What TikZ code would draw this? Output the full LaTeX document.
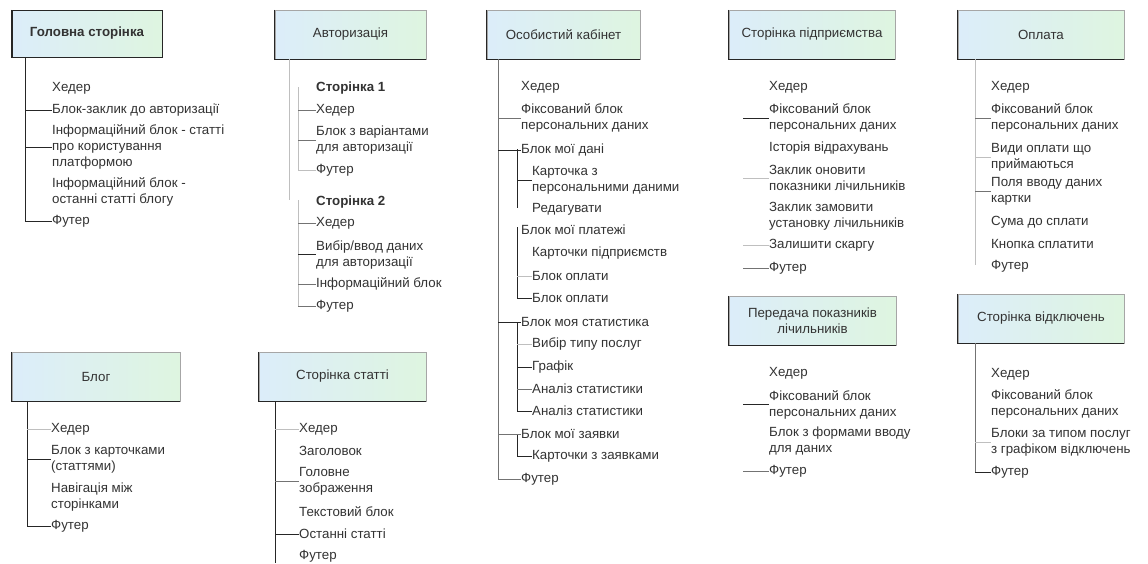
\documentclass[tikz,border=0pt]{standalone}
\usepackage{fontspec}
\setmainfont{Liberation Sans}
\definecolor{boxL}{HTML}{DCEDFA}
\definecolor{boxR}{HTML}{DEF5E0}
\definecolor{txt}{HTML}{333333}
\tikzset{
  pagebox/.style={left color=boxL, right color=boxR, draw=black!35, line width=0.5pt,
    inner sep=0pt, font=\fontsize{13.3}{15.5}\selectfont, text=txt, align=center},
  boxedge/.style={draw=black!85, line width=1.1pt},
  item/.style={anchor=west, inner xsep=0pt, inner ysep=0pt, align=left,
    font=\fontsize{13.3}{16}\selectfont, text=txt},
  tkd/.style={draw=black!85, line width=0.8pt},
  tkm/.style={draw=black!55, line width=0.6pt},
  tkl/.style={draw=black!25, line width=0.5pt},
}
\begin{document}
\begin{tikzpicture}[x=1pt,y=-1pt]
\useasboundingbox (0,0) rectangle (1148,563);
\fill[white] (0,0) rectangle (1148,563);

% ---------- Головна сторінка ----------
\node[pagebox, draw=black!85, minimum width=150pt, minimum height=47pt, font=\fontsize{13.3}{15.5}\selectfont\bfseries] (b1) at (87,33.5) {Головна сторінка};
\draw[boxedge] (b1.north west) -- (b1.south west) -- (b1.south east);
\coordinate (v1) at (25,221);
\draw[tkd] (b1.south -| v1) -- (v1);
\node[item] (a1) at (52,88) {Хедер};
\node[item] (a2) at (52,110) {Блок-заклик до авторизації};
\node[item] (a3) at (52,147) {Інформаційний блок - статті\\про користування\\платформою};
\node[item] (a4) at (52,191.5) {Інформаційний блок -\\останні статті блогу};
\node[item] (a5) at (52,221) {Футер};
\draw[tkd] (a2.west -| v1) -- (a2.west);
\draw[tkd] (a3.west -| v1) -- (a3.west);
\draw[tkd] (a5.west -| v1) -- (a5.west);

% ---------- Авторизація ----------
\node[pagebox, minimum width=151pt, minimum height=49pt] (b2) at (350.5,34.5) {Авторизація};
\draw[boxedge] (b2.north west) -- (b2.south west) -- (b2.south east);
\coordinate (v2) at (289,200);
\draw[tkl] (b2.south -| v2) -- (v2);
\coordinate (s2a) at (298,87);
\coordinate (s2b) at (298,170);
\coordinate (s2c) at (298,200);
\coordinate (s2d) at (298,306);
\draw[tkl] (s2a) -- (s2b);
\draw[tkl] (s2c) -- (s2d);
\node[item, font=\fontsize{13.3}{16}\selectfont\bfseries] (c1) at (316,88) {Сторінка 1};
\node[item] (c2) at (316,110) {Хедер};
\node[item] (c3) at (316,140.5) {Блок з варіантами\\для авторизації};
\node[item] (c4) at (316,170) {Футер};
\node[item, font=\fontsize{13.3}{16}\selectfont\bfseries] (c5) at (316,202) {Сторінка 2};
\node[item] (c6) at (316,223) {Хедер};
\node[item] (c7) at (316,254.5) {Вибір/ввод даних\\для авторизації};
\node[item] (c8) at (316,284) {Інформаційний блок};
\node[item] (c9) at (316,306) {Футер};
\draw[tkm] (c2.west -| s2a) -- (c2.west);
\draw[tkm] (c3.west -| s2a) -- (c3.west);
\draw[tkl] (c4.west -| s2a) -- (c4.west);
\draw[tkm] (c6.west -| s2a) -- (c6.west);
\draw[tkd] (c7.west -| s2a) -- (c7.west);
\draw[tkm] (c8.west -| s2a) -- (c8.west);
\draw[tkm] (c9.west -| s2a) -- (c9.west);

% ---------- Особистий кабінет ----------
\node[pagebox, minimum width=153pt, minimum height=49pt] (b3) at (563.5,34.5) {Особистий кабінет};
\draw[boxedge] (b3.north west) -- (b3.south west) -- (b3.south east);
\coordinate (v3) at (498,479);
\draw[tkm] (b3.south -| v3) -- (v3);
\node[item] (d1) at (521,87) {Хедер};
\node[item] (d2) at (521,118) {Фіксований блок\\персональних даних};
\node[item] (d3) at (521,150) {Блок мої дані};
\node[item] (d4) at (532,180) {Карточка з\\персональними даними};
\node[item] (d5) at (532,209) {Редагувати};
\node[item] (d6) at (521,230) {Блок мої платежі};
\node[item] (d7) at (532,253) {Карточки підприємств};
\node[item] (d8) at (532,276) {Блок оплати};
\node[item] (d9) at (532,298) {Блок оплати};
\node[item] (d10) at (521,322) {Блок моя статистика};
\node[item] (d11) at (532,344) {Вибір типу послуг};
\node[item] (d12) at (532,367) {Графік};
\node[item] (d13) at (532,389) {Аналіз статистики};
\node[item] (d14) at (532,411) {Аналіз статистики};
\node[item] (d15) at (521,434) {Блок мої заявки};
\node[item] (d16) at (532,456) {Карточки з заявками};
\node[item] (d17) at (521,479) {Футер};
\coordinate (s3a) at (517,149);
\coordinate (s3b) at (517,208);
\coordinate (s3c) at (517,227);
\coordinate (s3d) at (517,298);
\coordinate (s3e) at (517,322);
\coordinate (s3f) at (517,411);
\coordinate (s3g) at (517,434);
\coordinate (s3h) at (517,456);
\draw[tkd] (s3a) -- (s3b);
\draw[tkd] (s3c) -- (s3d);
\draw[tkd] (s3e) -- (s3f);
\draw[tkd] (s3g) -- (s3h);
\draw[tkm] (d2.west -| v3) -- (d2.west);
\draw[tkd] (d3.west -| v3) -- (d3.west);
\draw[tkd] (d4.west -| s3a) -- (d4.west);
\draw[tkl] (d8.west -| s3a) -- (d8.west);
\draw[tkd] (d9.west -| s3a) -- (d9.west);
\draw[tkd] (d10.west -| v3) -- (d10.west);
\draw[tkl] (d11.west -| s3a) -- (d11.west);
\draw[tkd] (d12.west -| s3a) -- (d12.west);
\draw[tkm] (d13.west -| s3a) -- (d13.west);
\draw[tkd] (d14.west -| s3a) -- (d14.west);
\draw[tkm] (d15.west -| v3) -- (d15.west);
\draw[tkd] (d16.west -| s3a) -- (d16.west);
\draw[tkm] (d17.west -| v3) -- (d17.west);

% ---------- Сторінка підприємства ----------
\node[pagebox, minimum width=166pt, minimum height=49pt] (b4) at (812,34.5) {Сторінка підприємства};
\draw[boxedge] (b4.north west) -- (b4.south west) -- (b4.south east);
\coordinate (v4) at (743,0);
\node[item] (e1) at (769,87) {Хедер};
\node[item] (e2) at (769,118) {Фіксований блок\\персональних даних};
\node[item] (e3) at (769,148) {Історія відрахувань};
\node[item] (e4) at (769,178) {Заклик оновити\\показники лічильників};
\node[item] (e5) at (769,216) {Заклик замовити\\установку лічильників};
\node[item] (e6) at (769,245) {Залишити скаргу};
\node[item] (e7) at (769,268) {Футер};
\draw[tkd] (e2.west -| v4) -- (e2.west);
\draw[tkl] (e4.west -| v4) -- (e4.west);
\draw[tkl] (e6.west -| v4) -- (e6.west);
\draw[tkm] (e7.west -| v4) -- (e7.west);

% ---------- Передача показників лічильників ----------
\node[pagebox, minimum width=167pt, minimum height=49pt] (b5) at (812.5,320.5) {Передача показників\\лічильників};
\draw[boxedge] (b5.north west) -- (b5.south west) -- (b5.south east);
\node[item] (f1) at (769,373) {Хедер};
\node[item] (f2) at (769,404.5) {Фіксований блок\\персональних даних};
\node[item] (f3) at (769,440.5) {Блок з формами вводу\\для даних};
\node[item] (f4) at (769,471) {Футер};
\draw[tkd] (f2.west -| v4) -- (f2.west);
\draw[tkm] (f4.west -| v4) -- (f4.west);

% ---------- Оплата ----------
\node[pagebox, minimum width=166pt, minimum height=49pt] (b6) at (1041,34.5) {Оплата};
\draw[boxedge] (b6.north west) -- (b6.south west) -- (b6.south east);
\coordinate (v6) at (975,265);
\draw[tkl] (b6.south -| v6) -- (v6);
\node[item] (g1) at (991,87) {Хедер};
\node[item] (g2) at (991,118) {Фіксований блок\\персональних даних};
\node[item] (g3) at (991,157.5) {Види оплати що\\приймаються};
\node[item] (g4) at (991,191.5) {Поля вводу даних\\картки};
\node[item] (g5) at (991,222) {Сума до сплати};
\node[item] (g6) at (991,244) {Кнопка сплатити};
\node[item] (g7) at (991,266) {Футер};
\draw[tkm] (g2.west -| v6) -- (g2.west);
\draw[tkl] (g3.west -| v6) -- (g3.west);
\draw[tkm] (g4.west -| v6) -- (g4.west);

% ---------- Сторінка відключень ----------
\node[pagebox, minimum width=166pt, minimum height=49pt] (b7) at (1041,318.5) {Сторінка відключень};
\draw[boxedge] (b7.north west) -- (b7.south west) -- (b7.south east);
\coordinate (v7) at (975,472);
\draw[tkm] (b7.south -| v7) -- (v7);
\node[item] (h1) at (991,374) {Хедер};
\node[item] (h2) at (991,404) {Фіксований блок\\персональних даних};
\node[item] (h3) at (991,442.5) {Блоки за типом послуг\\з графіком відключень};
\node[item] (h4) at (991,472) {Футер};
\draw[tkl] (h3.west -| v7) -- (h3.west);
\draw[tkd] (h4.west -| v7) -- (h4.west);

% ---------- Блог ----------
\node[pagebox, minimum width=168pt, minimum height=49pt] (b8) at (96,376.5) {Блог};
\draw[boxedge] (b8.north west) -- (b8.south west) -- (b8.south east);
\coordinate (v8) at (27,526);
\draw[tkd] (b8.south -| v8) -- (v8);
\node[item] (k1) at (51,429) {Хедер};
\node[item] (k2) at (51,459.5) {Блок з карточками\\(статтями)};
\node[item] (k3) at (51,497) {Навігація між\\сторінками};
\node[item] (k4) at (51,526) {Футер};
\draw[tkl] (k1.west -| v8) -- (k1.west);
\draw[tkd] (k2.west -| v8) -- (k2.west);
\draw[tkd] (k4.west -| v8) -- (k4.west);

% ---------- Сторінка статті ----------
\node[pagebox, minimum width=167pt, minimum height=49pt] (b9) at (342.5,376.5) {Сторінка статті};
\draw[boxedge] (b9.north west) -- (b9.south west) -- (b9.south east);
\coordinate (v9) at (275,563);
\draw[tkd] (b9.south -| v9) -- (v9);
\node[item] (m1) at (299,429) {Хедер};
\node[item] (m2) at (299,451) {Заголовок};
\node[item] (m3) at (299,481) {Головне\\зображення};
\node[item] (m4) at (299,512) {Текстовий блок};
\node[item] (m5) at (299,534) {Останні статті};
\node[item] (m6) at (299,556) {Футер};
\draw[tkl] (m1.west -| v9) -- (m1.west);
\draw[tkm] (m3.west -| v9) -- (m3.west);
\draw[tkd] (m5.west -| v9) -- (m5.west);
\end{tikzpicture}
\end{document}
